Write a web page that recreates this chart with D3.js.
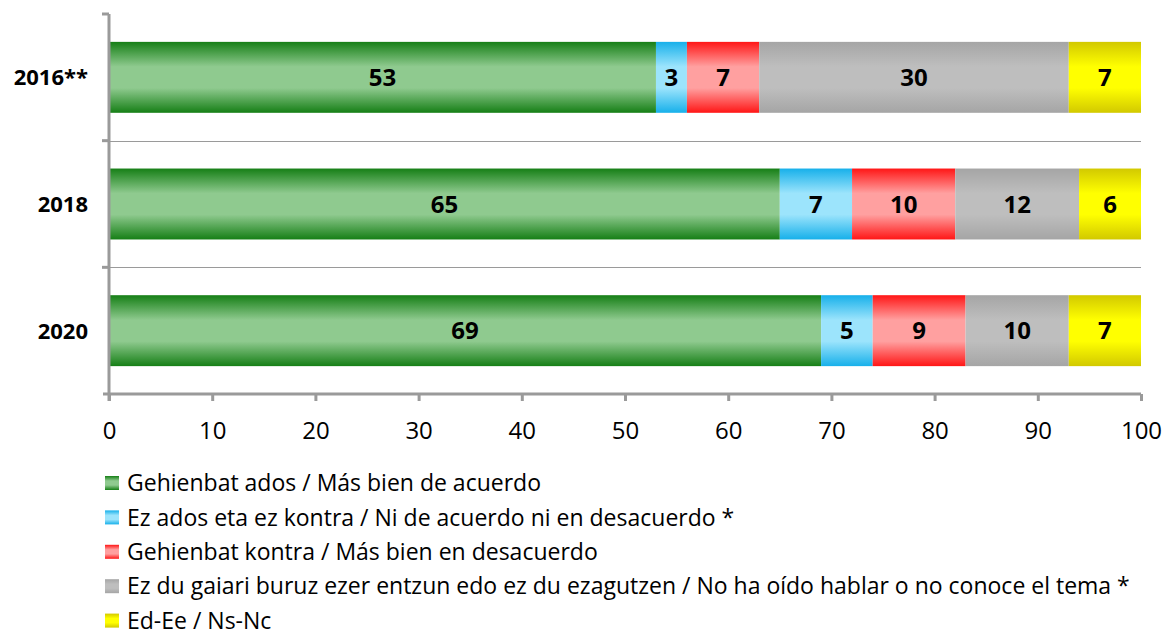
<!DOCTYPE html>
<html>
<head>
<meta charset="utf-8">
<script src="https://cdn.jsdelivr.net/npm/d3@7"></script>
<style>
body { margin: 0; background: #fff; }
text { font-family: "Open Sans", "Noto Sans", sans-serif; }
</style>
</head>
<body>
<script>
var years = ["2016**", "2018", "2020"];
var seriesNames = [
    "Gehienbat ados / Más bien de acuerdo",
    "Ez ados eta ez kontra / Ni de acuerdo ni en desacuerdo *",
    "Gehienbat kontra / Más bien en desacuerdo",
    "Ez du gaiari buruz ezer entzun edo ez du ezagutzen  / No ha oído hablar o no conoce el tema *",
    "Ed-Ee / Ns-Nc"
];
var ados = [53, 65, 69];
var neutral = [3, 7, 5];
var kontra = [7, 10, 9];
var ezDaki = [30, 12, 10];
var edEe = [7, 6, 7];
var xTicks = [0, 10, 20, 30, 40, 50, 60, 70, 80, 90, 100];

// edge colour, middle colour
var palette = [
    ["#167f16", "#8fca8f"],
    ["#17b0ea", "#9ce4fc"],
    ["#ff1616", "#ffa0a0"],
    ["#a5a5a5", "#bebebe"],
    ["#d2c900", "#ffff00"]
];

var seriesValues = [ados, neutral, kontra, ezDaki, edEe];

var outerWidth = 1172, outerHeight = 635;
var marginLeft = 109, plotRight = 1141, plotTop = 14, plotBottom = 394;

var svg = d3.select("body").append("svg")
    .attr("width", outerWidth)
    .attr("height", outerHeight);

var defs = svg.append("defs");
palette.forEach(function(c, i){
    var g = defs.append("linearGradient")
        .attr("id", "grad" + i)
        .attr("x1", 0).attr("y1", 0).attr("x2", 0).attr("y2", 1);
    g.append("stop").attr("offset", "0%").attr("stop-color", c[0]);
    g.append("stop").attr("offset", "35%").attr("stop-color", c[1]);
    g.append("stop").attr("offset", "65%").attr("stop-color", c[1]);
    g.append("stop").attr("offset", "100%").attr("stop-color", c[0]);
});

var x = d3.scaleLinear().domain([0, 100]).range([marginLeft, plotRight]);
var y = d3.scaleBand().domain(years).range([plotTop, plotBottom]).paddingInner(0.44).paddingOuter(0.22);
var band = d3.scaleBand().domain(years).range([plotTop, plotBottom]);

// gridlines between categories
svg.selectAll(".grid")
    .data(years.slice(1))
    .enter().append("line")
    .attr("x1", marginLeft).attr("x2", plotRight)
    .attr("y1", function(d){ return Math.round(band(d)) + 0.5; })
    .attr("y2", function(d){ return Math.round(band(d)) + 0.5; })
    .attr("stroke", "#9a9a9a").attr("stroke-width", 1);

// stacked data
var stackData = years.map(function(yr, i){
    var cum = 0;
    return seriesValues.map(function(s, k){
        var seg = { year: yr, k: k, x0: cum, x1: cum + s[i], v: s[i] };
        cum += s[i];
        return seg;
    });
});

var rows = svg.selectAll(".row")
    .data(stackData)
    .enter().append("g")
    .attr("class", "row");

rows.selectAll("rect")
    .data(function(d){ return d; })
    .enter().append("rect")
    .attr("x", function(d){ return x(d.x0); })
    .attr("width", function(d){ return x(d.x1) - x(d.x0); })
    .attr("y", function(d){ return y(d.year); })
    .attr("height", y.bandwidth())
    .attr("fill", function(d){ return "url(#grad" + d.k + ")"; });

rows.selectAll("text")
    .data(function(d){ return d; })
    .enter().append("text")
    .attr("x", function(d){ return (x(d.x0) + x(d.x1)) / 2; })
    .attr("y", function(d){ return y(d.year) + y.bandwidth() / 2; })
    .attr("dy", "0.36em")
    .attr("text-anchor", "middle")
    .attr("font-size", 24)
    .attr("font-weight", "bold")
    .attr("fill", "#000")
    .text(function(d){ return d.v; });

// x axis
var xAxis = svg.append("g")
    .attr("transform", "translate(0," + plotBottom + ")")
    .call(d3.axisBottom(x).tickValues(xTicks).tickSize(7).tickPadding(21));
xAxis.select(".domain").attr("stroke", "#9a9a9a").attr("stroke-width", 3).attr("d", "M" + (marginLeft - 6) + ",0H" + plotRight);
xAxis.selectAll(".tick line").attr("stroke", "#9a9a9a").attr("stroke-width", 3);
xAxis.selectAll(".tick text").attr("font-size", 24).attr("fill", "#000");

// y axis
var yAxisG = svg.append("g");
yAxisG.append("line")
    .attr("x1", marginLeft).attr("x2", marginLeft)
    .attr("y1", plotTop).attr("y2", plotBottom + 7)
    .attr("stroke", "#9a9a9a").attr("stroke-width", 3);
yAxisG.selectAll(".ytick")
    .data(years)
    .enter().append("line")
    .attr("x1", marginLeft - 7).attr("x2", marginLeft)
    .attr("y1", function(d){ return band(d); })
    .attr("y2", function(d){ return band(d); })
    .attr("stroke", "#9a9a9a").attr("stroke-width", 3);
yAxisG.selectAll(".ylab")
    .data(years)
    .enter().append("text")
    .attr("x", 88)
    .attr("y", function(d){ return y(d) + y.bandwidth() / 2; })
    .attr("dy", "0.36em")
    .attr("text-anchor", "end")
    .attr("font-size", 22)
    .attr("font-weight", "bold")
    .text(function(d){ return d; });

// legend
var legend = svg.selectAll(".legend")
    .data(seriesNames)
    .enter().append("g")
    .attr("class", "legend")
    .attr("transform", function(d, i){ return "translate(105," + (483 + i * 34.4) + ")"; });
legend.append("rect")
    .attr("x", 0).attr("y", -7).attr("width", 14).attr("height", 14)
    .attr("fill", function(d, i){ return "url(#grad" + i + ")"; });
legend.append("text")
    .attr("x", 22)
    .attr("dy", "0.36em")
    .attr("font-size", 23)
    .attr("fill", "#000")
    .text(function(d){ return d; });
</script>
</body>
</html>
